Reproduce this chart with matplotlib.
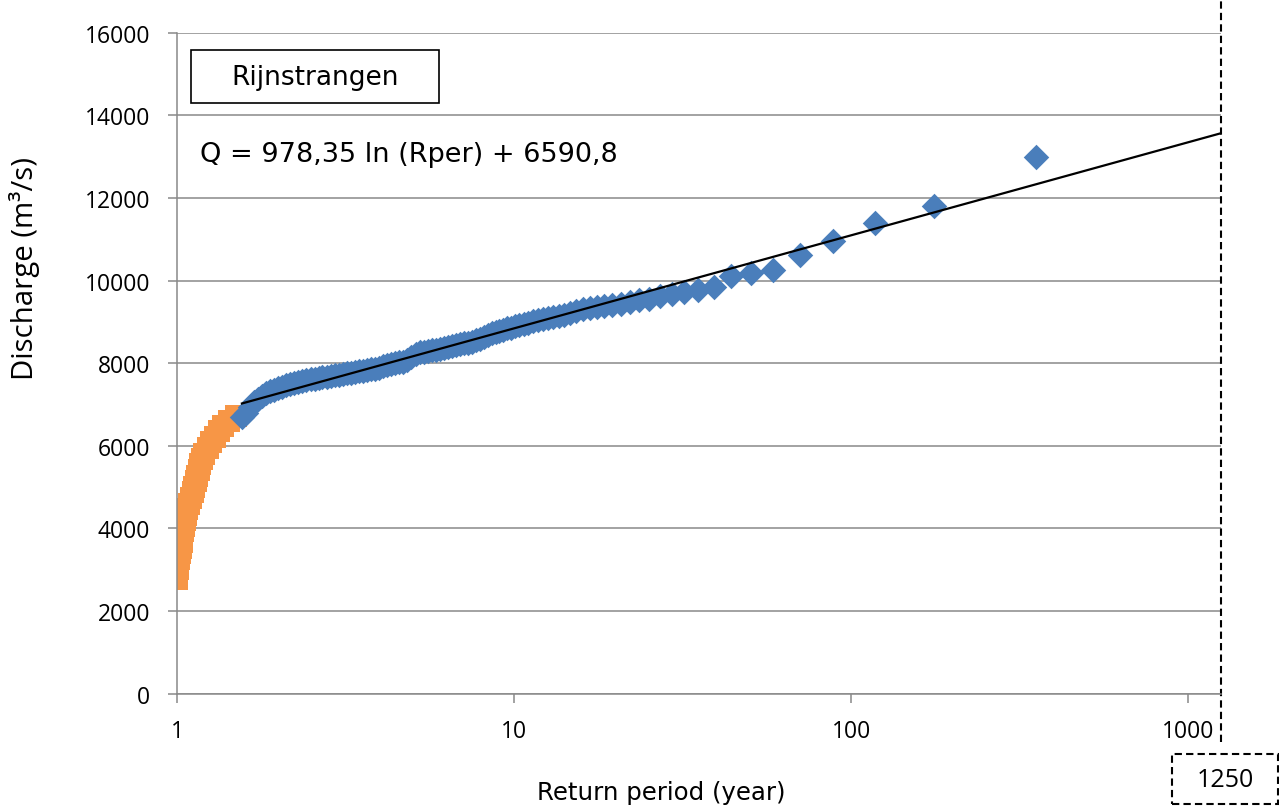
import numpy as np
import matplotlib.pyplot as plt
from matplotlib.patches import Rectangle
from matplotlib.ticker import NullLocator

# >>>>>>>>>>>>> annual maxima, Rijnstrangen <<<<<<<<<<<<< #
# return period (year) and discharge (m3/s)

# low part of the series (orange)
low_T = [1.000, 1.003, 1.007, 1.010, 1.014, 1.020, 1.026, 1.032, 1.038, 1.044,
         1.049, 1.057, 1.066, 1.074, 1.086, 1.099, 1.112, 1.123, 1.135, 1.147,
         1.159, 1.172, 1.184, 1.206, 1.233, 1.259, 1.296, 1.334, 1.372, 1.431,
         1.497]
low_Q = [2780, 2900, 3020, 3140, 3261, 3400, 3530, 3660, 3800, 3930,
         4067, 4200, 4330, 4471, 4600, 4740, 4875, 5010, 5150, 5280,
         5420, 5550, 5681, 5810, 5950, 6086, 6220, 6350, 6487, 6600,
         6720]

# part used for the trend line (blue)
high_T = [1.558, 1.60, 1.645, 1.69, 1.74, 1.79, 1.84, 1.89, 1.94, 2.00,
          2.05, 2.11, 2.17, 2.23, 2.29, 2.35, 2.42, 2.49, 2.56, 2.63,
          2.70, 2.78, 2.86, 2.94, 3.02, 3.10, 3.19, 3.28, 3.37, 3.46,
          3.56, 3.66, 3.76, 3.87, 3.98, 4.09, 4.20, 4.32, 4.44, 4.56,
          4.69, 4.82, 4.96, 5.10, 5.24, 5.39, 5.54, 5.69, 5.85, 6.01,
          6.18, 6.35, 6.53, 6.71, 6.90, 7.09, 7.29, 7.49, 7.70, 7.92,
          8.14, 8.37, 8.60, 8.84,
          9.03, 9.26, 9.51, 9.78, 10.06, 10.35, 10.67, 11.0, 11.35, 11.73,
          12.14, 12.57, 13.04, 13.54, 14.08, 14.67, 15.30, 16.0, 16.76, 17.6,
          18.53, 19.56, 20.71, 22.0, 23.47, 25.14, 27.08, 29.33, 32.0, 35.2,
          39.11, 44.0, 50.29, 58.67, 70.4, 88.0, 117.3, 176.0, 352.0]
high_Q = [6690, 6800, 6940, 7050, 7140, 7210, 7270, 7320, 7360, 7400,
          7430, 7460, 7490, 7520, 7545, 7565, 7585, 7605, 7625, 7645,
          7660, 7675, 7690, 7710, 7725, 7740, 7755, 7770, 7785, 7800,
          7815, 7830, 7850, 7870, 7895, 7920, 7945, 7970, 7995, 8020,
          8040, 8080, 8160, 8230, 8260, 8280, 8300, 8315, 8330, 8350,
          8370, 8395, 8420, 8440, 8460, 8480, 8500, 8520, 8550, 8590,
          8640, 8690, 8730, 8765,
          8790, 8810, 8840, 8860, 8890, 8920, 8950, 8980, 9010, 9050,
          9080, 9100, 9120, 9140, 9165, 9210, 9260, 9310, 9340, 9370,
          9390, 9410, 9440, 9481, 9520, 9561, 9617, 9675, 9723, 9779,
          9844, 10101, 10183, 10263, 10609, 10948, 11393, 11795, 12998]

# log trend line Q = a ln(Rper) + b
fit_a = 978.35
fit_b = 6590.8
T_max = 1250

x_ticks = [1, 10, 100, 1000]
y_ticks = np.arange(0, 16001, 2000)

grid_col = '#898989'
tick_font = 'Open Sans'
text_font = 'DejaVu Sans'

fig = plt.figure(figsize=(12.79, 8.12), dpi=100)
ax = fig.add_axes([0.1384, 0.1445, 0.8163, 0.814])

ax.scatter(low_T, low_Q, marker='s', s=16.5**2, color='#F79646', linewidths=0, zorder=2)
ax.scatter(high_T, high_Q, marker='D', s=13.0**2, color='#4A7EBB', linewidths=0, zorder=3)

T_fit = np.array([high_T[0], T_max])
ax.plot(T_fit, fit_a*np.log(T_fit) + fit_b, color='black', lw=1.6, zorder=4)

ax.set_xscale('log')
ax.set_xlim(1, T_max)
ax.set_ylim(0, 16000)
ax.set_xticks(x_ticks)
ax.set_xticklabels([str(t) for t in x_ticks])
ax.xaxis.set_minor_locator(NullLocator())
ax.set_yticks(y_ticks)
ax.set_yticklabels([str(v) for v in y_ticks])

ax.yaxis.grid(True, color=grid_col, lw=1.1)
ax.set_axisbelow(True)
for s in ['top', 'right']:
    ax.spines[s].set_visible(False)
for s in ['left', 'bottom']:
    ax.spines[s].set_color(grid_col)
    ax.spines[s].set_linewidth(1.1)

ax.tick_params(axis='x', colors=grid_col, length=6.5, width=1.1, pad=12, labelcolor='black')
ax.tick_params(axis='y', colors=grid_col, length=6.5, width=1.1, pad=13, labelcolor='black')
for lab in ax.get_xticklabels() + ax.get_yticklabels():
    lab.set_fontfamily(tick_font)
    lab.set_fontsize(16.5)

# dashed marker of the upper return period
ax.axvline(T_max, ymin=-0.073, ymax=1.052, color='black', lw=1.5,
           ls=(0, (3.5, 2)), clip_on=False)
fig.patches.append(Rectangle((0.9163, 0.0086), 0.0829, 0.0616, transform=fig.transFigure,
                             fill=False, ec='black', lw=1.5, ls=(0, (3.5, 2))))
fig.text(0.9578, 0.0394, str(T_max), ha='center', va='center',
         fontsize=18, family=tick_font)

# station name and fitted equation
ax.add_patch(Rectangle((0.0134, 0.8932), 0.2375, 0.0811, transform=ax.transAxes,
                       fill=False, ec='black', lw=1.2))
ax.text(0.1322, 0.9337, 'Rijnstrangen', transform=ax.transAxes, ha='center',
        va='center', fontsize=19, family=text_font)
eq = 'Q = {} ln (Rper) + {}'.format(f'{fit_a:.2f}'.replace('.', ','),
                                      f'{fit_b:.1f}'.replace('.', ','))
ax.text(0.022, 0.8165, eq, transform=ax.transAxes, ha='left', va='center',
        fontsize=19.5, family=text_font)

fig.text(661/1279, 1 - 793/812, 'Return period (year)', ha='center', va='center',
         fontsize=17.6, family=text_font)
fig.text(25/1279, 1 - 269/812, 'Discharge (m³/s)', ha='center', va='center',
         rotation=90, fontsize=21.2, family=tick_font)

fig.savefig('out.png', dpi=100)
